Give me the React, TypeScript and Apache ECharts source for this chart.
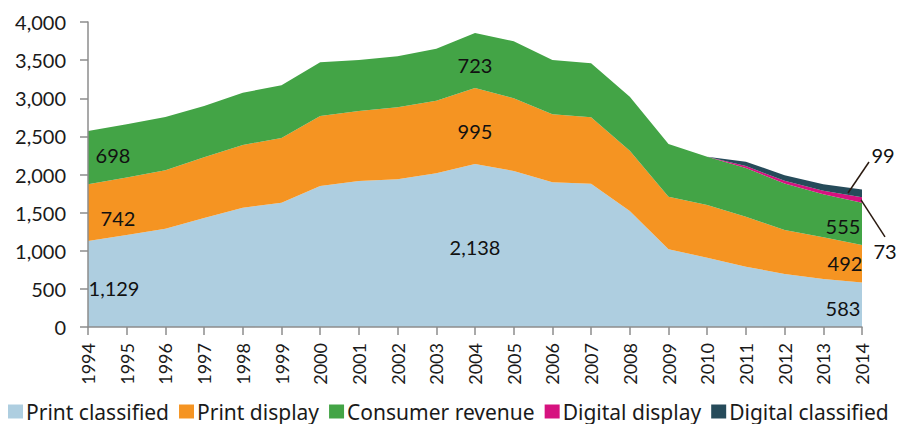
import React, { useEffect, useRef } from 'react';
import * as echarts from 'echarts';

const years = ['1994', '1995', '1996', '1997', '1998', '1999', '2000', '2001', '2002', '2003', '2004',
  '2005', '2006', '2007', '2008', '2009', '2010', '2011', '2012', '2013', '2014'];
const printClassified = [1129, 1205, 1290, 1430, 1565, 1630, 1850, 1915, 1937, 2016, 2138, 2046, 1897, 1878, 1521, 1019, 909, 791, 695, 630, 583];
const printDisplay = [742, 756, 765, 796, 822, 849, 918, 918, 944, 952, 995, 953, 892, 874, 791, 690, 691, 656, 577, 546, 492];
const consumerRevenue = [698, 699, 699, 674, 686, 691, 705, 669, 669, 682, 723, 748, 713, 706, 708, 691, 634, 638, 610, 565, 555];
const digitalDisplay = [0, 0, 0, 0, 0, 0, 0, 0, 0, 0, 0, 0, 0, 0, 0, 0, 0, 26, 35, 46, 73];
const digitalClassified = [0, 0, 0, 0, 0, 0, 0, 0, 0, 0, 0, 0, 0, 0, 0, 0, 0, 57, 72, 85, 99];
const yTicks = [0, 500, 1000, 1500, 2000, 2500, 3000, 3500, 4000];

const seriesNames = ['Print classified', 'Print display', 'Consumer revenue', 'Digital display', 'Digital classified'];
const seriesColors = ['#AECEE0', '#F59422', '#43A446', '#D6127F', '#264B5A'];

// value labels: text, anchor category, anchor value (data units), pixel nudge
const annotations = [
  { text: '1,129', cat: '1994', val: 510, dx: 26 },
  { text: '742', cat: '1994', val: 1430, dx: 30 },
  { text: '698', cat: '1994', val: 2256, dx: 25 },
  { text: '2,138', cat: '2004', val: 1049, dx: 0 },
  { text: '995', cat: '2004', val: 2570, dx: 0 },
  { text: '723', cat: '2004', val: 3436, dx: 0 },
  { text: '583', cat: '2014', val: 249, dx: -19 },
  { text: '492', cat: '2014', val: 839, dx: -17 },
  { text: '555', cat: '2014', val: 1325, dx: -19 },
  { text: '99', cat: '2014', val: 2256, dx: 21 },
  { text: '73', cat: '2014', val: 997, dx: 23 },
];

const FONT = 'Lato, "Open Sans", sans-serif';

export default function App() {
  const ref = useRef<HTMLDivElement>(null);
  useEffect(() => {
    const chart = echarts.init(ref.current!, null, { renderer: 'svg' });
    const data = [printClassified, printDisplay, consumerRevenue, digitalDisplay, digitalClassified];
    chart.setOption({
      animation: false,
      backgroundColor: '#ffffff',
      textStyle: { fontFamily: FONT },
      grid: { left: 88, right: 40, top: 22, bottom: 97, containLabel: false },
      legend: {
        left: 3,
        top: 396,
        icon: 'rect',
        itemWidth: 15,
        itemHeight: 14,
        itemGap: 10,
        textStyle: { fontFamily: '"Noto Sans", sans-serif', fontSize: 21, lineHeight: 20, color: '#1a1a1a', padding: [0, 0, 0, -2] },
        data: seriesNames,
      },
      xAxis: {
        type: 'category',
        boundaryGap: false,
        data: years,
        z: 10,
        axisLine: { lineStyle: { color: '#8c8c8c', width: 1.5 } },
        axisTick: { show: true, length: 8, lineStyle: { color: '#8c8c8c', width: 1.5 } },
        axisLabel: { rotate: 90, interval: 0, fontSize: 18, color: '#1a1a1a', margin: 16, fontFamily: FONT },
      },
      yAxis: {
        type: 'value',
        min: 0,
        max: 4000,
        interval: 500,
        z: 10,
        splitLine: { show: false },
        axisLine: { show: true, lineStyle: { color: '#8c8c8c', width: 1.5 } },
        axisTick: { show: true, length: 8, lineStyle: { color: '#8c8c8c', width: 1.5 } },
        axisLabel: {
          fontSize: 20,
          color: '#1a1a1a',
          margin: 22,
          fontFamily: FONT,
          formatter: (v: number) => (yTicks.includes(v) ? v.toLocaleString('en-US') : ''),
        },
      },
      series: seriesNames.map((name, i) => ({
        name,
        type: 'line',
        stack: 'total',
        data: data[i],
        symbol: 'none',
        showSymbol: false,
        lineStyle: { width: 0, color: seriesColors[i] },
        itemStyle: { color: seriesColors[i] },
        areaStyle: { color: seriesColors[i], opacity: 1 },
        z: 2,
      })),
    });

    const graphics: any[] = annotations.map((a) => {
      const p = chart.convertToPixel({ gridIndex: 0 }, [a.cat, a.val]) as number[];
      return {
        type: 'text',
        x: p[0] + a.dx,
        y: p[1],
        z: 20,
        style: {
          text: a.text,
          fill: '#111',
          font: `20px ${FONT}`,
          textAlign: 'center',
          textVerticalAlign: 'middle',
        },
      };
    });
    // leader lines for the two digital labels
    const end = years[years.length - 1];
    const topDC = chart.convertToPixel({ gridIndex: 0 }, [end, printClassified[20] + printDisplay[20] + consumerRevenue[20] + digitalDisplay[20] + digitalClassified[20] * 0.55]) as number[];
    const midDD = chart.convertToPixel({ gridIndex: 0 }, [end, printClassified[20] + printDisplay[20] + consumerRevenue[20] + digitalDisplay[20] * 0.5]) as number[];
    graphics.push({
      type: 'line', z: 20,
      shape: { x1: topDC[0] - 14, y1: topDC[1], x2: topDC[0] + 7, y2: topDC[1] - 31 },
      style: { stroke: '#2a1a10', lineWidth: 1.5 },
    });
    graphics.push({
      type: 'line', z: 20,
      shape: { x1: midDD[0] - 1, y1: midDD[1], x2: midDD[0] + 23, y2: midDD[1] + 37 },
      style: { stroke: '#2a1a10', lineWidth: 1.5 },
    });
    chart.setOption({ graphic: graphics });
    return () => chart.dispose();
  }, []);
  return <div ref={ref} style={{ position: 'fixed', left: 0, top: 0, width: 902, height: 424 }} />;
}
